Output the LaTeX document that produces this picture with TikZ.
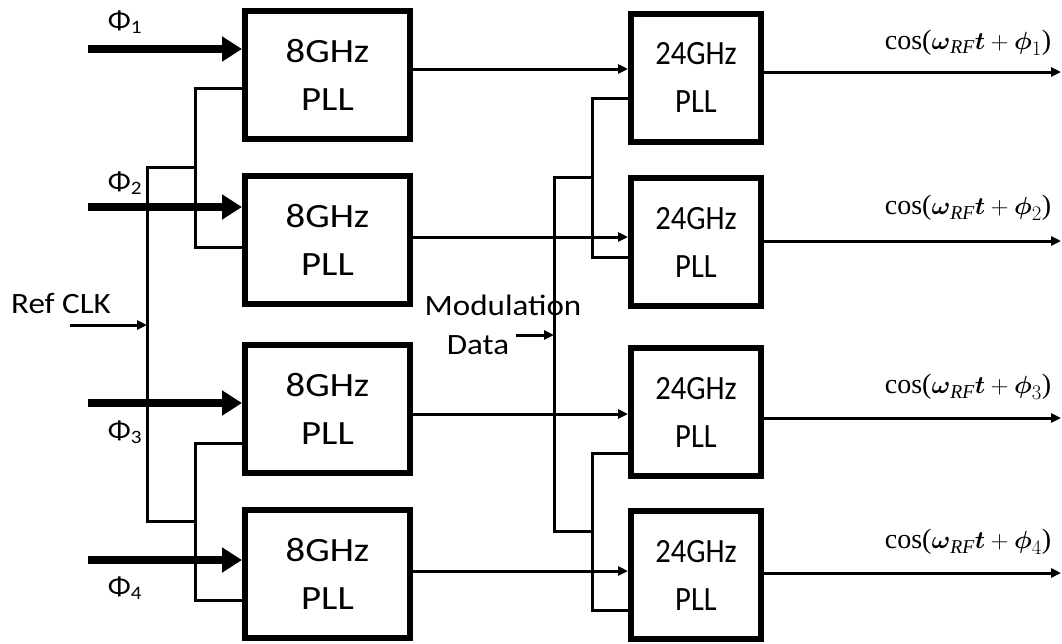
\documentclass[tikz,border=0pt]{standalone}
\usepackage{amsmath}
\usepackage{fontspec}
\setmainfont[FakeStretch=1.12]{Carlito}
\newfontfamily\boxfont[FakeStretch=1.14]{Carlito}
\newfontfamily\boxfontn[FakeStretch=0.9]{Carlito}
\newfontfamily\tnr{Liberation Serif}
\usetikzlibrary{arrows.meta}
\newcommand\coslab[1]{{\tnr cos(}$\boldsymbol{\omega}_{\text{\tnr\itshape RF}}\boldsymbol{t}+\boldsymbol{\phi}_{#1}${\tnr )}}
\begin{document}
\begin{tikzpicture}[x=1pt,y=-1pt,
  pll8/.style={draw,line width=6pt,minimum width=165pt,minimum height=128pt,inner sep=0pt,
    align=center,font=\boxfont\fontsize{34}{48}\selectfont},
  pll24/.style={pll8,minimum width=130pt,font=\boxfontn\fontsize{34}{48}\selectfont},
  wire/.style={line width=3pt},
  arr/.style={wire,-{Triangle[length=10pt,width=9pt]}},
  fat/.style={line width=7.5pt,-{Triangle[length=20pt,width=24pt]}},
  lbl/.style={font=\fontsize{29.5}{32}\selectfont,inner sep=0pt},
  phl/.style={font=\fontsize{27}{29}\selectfont,inner sep=0pt},
  cosl/.style={font=\fontsize{28}{30}\selectfont,inner sep=0pt}]
\useasboundingbox (0,0) rectangle (1062,643);
% boxes
\node[pll8] (A1) at (327.5,75) {8GHz\\PLL};
\node[pll8] (A2) at (327.5,240) {8GHz\\PLL};
\node[pll8] (A3) at (327.5,409) {8GHz\\PLL};
\node[pll8] (A4) at (327.5,574) {8GHz\\PLL};
\node[pll24] (B1) at (696,77.5) {24GHz\\PLL};
\node[pll24] (B2) at (696,242) {24GHz\\PLL};
\node[pll24] (B3) at (696,412) {24GHz\\PLL};
\node[pll24] (B4) at (696,575) {24GHz\\PLL};
% phase inputs
\coordinate (p1) at (88,49);
\coordinate (p2) at (88,207);
\coordinate (p3) at (88,403);
\coordinate (p4) at (88,560);
\draw[fat] (p1) -- (p1 -| A1.west);
\draw[fat] (p2) -- (p2 -| A2.west);
\draw[fat] (p3) -- (p3 -| A3.west);
\draw[fat] (p4) -- (p4 -| A4.west);
\node[phl] (f1) at (125,22) {Φ\textsubscript{1}};
\node[phl] (f2) at (125,183) {Φ\textsubscript{2}};
\node[phl] (f3) at (125,432) {Φ\textsubscript{3}};
\node[phl] (f4) at (125,588) {Φ\textsubscript{4}};
% reference clock
\node[lbl] (ref) at (61,303) {Ref CLK};
\coordinate (rc) at (70,325);
\coordinate (cJ) at (147,325);
\coordinate (cT) at (147,167);
\coordinate (cB) at (147,521);
\coordinate (kt) at (195,167);
\coordinate (kb) at (195,521);
\coordinate (k1) at (195,88);
\coordinate (k2) at (195,247);
\coordinate (k3) at (195,443);
\coordinate (k4) at (195,600);
\draw[arr] (rc) -- (cJ);
\draw[wire] (cB) -- (cT) -- (kt);
\draw[wire] (cT) -- (cB) -- (kb);
\draw[wire] (k1 -| A1.west) -- (k1) -- (k2) -- (k2 -| A2.west);
\draw[wire] (k3 -| A3.west) -- (k3) -- (k4) -- (k4 -| A4.west);
% 8GHz -> 24GHz
\coordinate (o1) at (0,69);
\coordinate (o2) at (0,237);
\coordinate (o3) at (0,414);
\coordinate (o4) at (0,571);
\draw[arr] (A1.east |- o1) -- (B1.west |- o1);
\draw[arr] (A2.east |- o2) -- (B2.west |- o2);
\draw[arr] (A3.east |- o3) -- (B3.west |- o3);
\draw[arr] (A4.east |- o4) -- (B4.west |- o4);
% modulation data
\node[lbl] (mod) at (503,305) {Modulation};
\node[lbl] (dat) at (478,345) {Data};
\coordinate (md) at (516,335);
\coordinate (mJ) at (554,335);
\coordinate (mT) at (554,177);
\coordinate (mB) at (554,531);
\coordinate (mt) at (592,177);
\coordinate (mb) at (592,531);
\coordinate (m1) at (592,98);
\coordinate (m2) at (592,257);
\coordinate (m3) at (592,453);
\coordinate (m4) at (592,610);
\draw[arr] (md) -- (mJ);
\draw[wire] (mB) -- (mT) -- (mt);
\draw[wire] (mT) -- (mB) -- (mb);
\draw[wire] (m1 -| B1.west) -- (m1) -- (m2) -- (m2 -| B2.west);
\draw[wire] (m3 -| B3.west) -- (m3) -- (m4) -- (m4 -| B4.west);
% outputs
\coordinate (e1) at (1061,72);
\coordinate (e2) at (1061,241);
\coordinate (e3) at (1061,418);
\coordinate (e4) at (1061,573);
\draw[arr] (B1.east |- e1) -- (e1);
\draw[arr] (B2.east |- e2) -- (e2);
\draw[arr] (B3.east |- e3) -- (e3);
\draw[arr] (B4.east |- e4) -- (e4);
\node[cosl] (c1) at (968,43) {\coslab{1}};
\node[cosl] (c2) at (968,208) {\coslab{2}};
\node[cosl] (c3) at (968,387) {\coslab{3}};
\node[cosl] (c4) at (968,542) {\coslab{4}};
\end{tikzpicture}
\end{document}
